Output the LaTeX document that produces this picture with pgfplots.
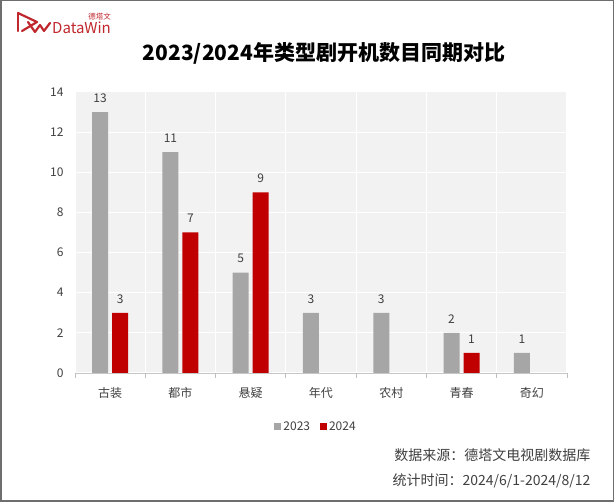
\documentclass[border=0pt]{standalone}
\usepackage{pgfplots}
\pgfplotsset{compat=1.18}
\usepackage{fontspec}
\setmainfont{Noto Sans CJK SC}
\definecolor{barGray}{HTML}{A6A6A6}
\definecolor{barRed}{HTML}{C00000}
\definecolor{bgGray}{HTML}{F2F2F2}
\definecolor{txt}{HTML}{404040}
\definecolor{logoRed}{HTML}{C0282D}
\definecolor{frame}{HTML}{6E6E6E}
\begin{document}
\begin{tikzpicture}
\fill[white] (0pt,0pt) rectangle (614pt,-502pt);
\draw[frame, line width=1.5pt] (0.75pt,-0.75pt) rectangle (613.25pt,-501.25pt);
% logo
\draw[logoRed, line width=2.2pt, line join=round, line cap=round] (18pt,-13pt) -- (18pt,-31pt);
\draw[logoRed, line width=2.2pt, line join=round, line cap=round] (18pt,-13pt) -- (37pt,-22pt) -- (22pt,-31pt);
\draw[logoRed, line width=2.2pt, line join=round, line cap=round] (28pt,-22pt) -- (35pt,-32pt) -- (40pt,-25pt) -- (44pt,-31pt) -- (50pt,-23pt);
\node[anchor=base west, text=logoRed, font=\fontsize{15}{15}\selectfont, inner sep=0pt] at (52pt,-34pt) {DataWin};
\node[anchor=base east, text=logoRed, font=\fontsize{7.5}{8}\selectfont, inner sep=0pt] at (111pt,-19.5pt) {德塔文};
% title
\node[font=\bfseries\fontsize{21}{24}\selectfont, text=black] at (324pt,-53pt) {2023/2024年类型剧开机数目同期对比};
\begin{axis}[
  at={(75pt,-373pt)}, anchor=south west, scale only axis,
  width=492pt, height=281pt,
  xmin=-0.5, xmax=6.5, ymin=0, ymax=14,
  ytick={0,2,...,14},
  xtick={0,...,6}, xticklabels={古装,都市,悬疑,年代,农村,青春,奇幻},
  ybar=4pt, bar width=16pt,
  /pgf/number format/assume math mode=true,
  axis background/.style={fill=bgGray},
  ymajorgrids, major grid style={white, line width=1pt},
  axis x line*=bottom, axis y line*=left,
  y axis line style={draw=none},
  x axis line style={draw=gray!45, line width=0.8pt},
  x tick style={draw=none}, y tick style={draw=none},
  extra x ticks={-0.5,0.5,...,6.5}, extra x tick labels={},
  extra x tick style={xmajorgrids=true, major grid style={white, line width=1pt}, major tick length=5pt, tick align=outside, x tick style={draw=gray!50, line width=0.8pt}},
  tick label style={font=\fontsize{12}{14}\selectfont, text=txt},
  yticklabel style={xshift=-8pt},
  xticklabel style={yshift=-7pt},
  nodes near coords, nodes near coords style={font=\fontsize{12}{14}\selectfont, text=txt, yshift=6pt},
  legend style={at={(axis description cs:0.49,-0.192)}, anchor=center, draw=none, fill=none, legend columns=2, font=\fontsize{12}{14}\selectfont, text=txt, /tikz/every even column/.append style={column sep=8pt}},
]
\addplot[fill=barGray, draw=none, legend image code/.code={\fill[barGray] (0pt,-3.5pt) rectangle (7pt,3.5pt);}] coordinates {(0,13) (1,11) (2,5) (3,3) (4,3) (5,2) (6,1)};
\addlegendentry{2023}
\addplot[fill=barRed, draw=none, legend image code/.code={\fill[barRed] (0pt,-3.5pt) rectangle (7pt,3.5pt);}] coordinates {(0,3) (1,7) (2,9) (5,1)};
\addlegendentry{2024}
\end{axis}
\node[anchor=east, font=\fontsize{14}{16}\selectfont, text=txt] at (594pt,-455pt) {数据来源：德塔文电视剧数据库};
\node[anchor=east, font=\fontsize{14}{16}\selectfont, text=txt] at (594pt,-481pt) {统计时间：2024/6/1-2024/8/12};
\end{tikzpicture}
\end{document}
